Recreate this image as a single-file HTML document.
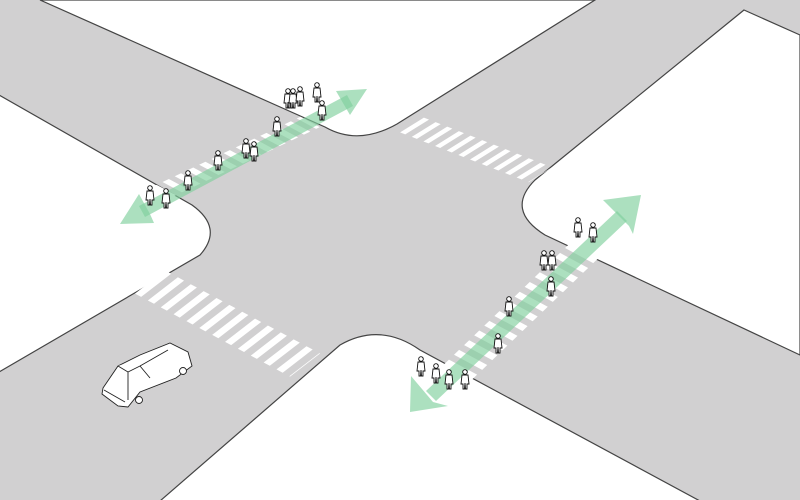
<!DOCTYPE html>
<html><head><meta charset="utf-8"><style>html,body{margin:0;padding:0;background:#fff}svg{display:block}</style></head>
<body>
<svg width="800" height="500" viewBox="0 0 800 500" xmlns="http://www.w3.org/2000/svg">
<defs>
<g id="p">
<circle cx="0" cy="-17" r="2.3" fill="#fff" stroke="#111" stroke-width="0.9"/>
<path d="M-3,-14 L3,-14 L4,-5 L2,-5 L2,0 L0.5,0 L0,-6 L-0.5,0 L-2,0 L-2,-5 L-4,-5 Z" fill="#fff" stroke="#111" stroke-width="0.9"/>
</g>
</defs>
<rect width="800" height="500" fill="#d1d0d1"/>
<g fill="#fff" stroke="#444" stroke-width="1.2">
<path d="M40,0 L325,127 Q358,146 397,124 L595,0 Z"/>
<path d="M744,10 L800,35 L800,355 L545,235 Q505,210 535,180 Z"/>
<path d="M160,501 L340,345 Q380,322 420,350 L700,501 Z"/>
<path d="M-1,95 L192,205 Q224,228 200,255 L-1,372 Z"/>
</g>
<g stroke="#fff" fill="none">
<line x1="0" y1="0" x2="138" y2="0" stroke-width="28" stroke-dasharray="5.5 7" transform="matrix(0.932,0.361,0.85,-0.53,412,125)"/>
<line x1="0" y1="0" x2="166" y2="0" stroke-width="22" stroke-dasharray="7 6.5" transform="matrix(0.904,-0.428,0.88,0.47,160,193)"/>
<line x1="0" y1="0" x2="176" y2="0" stroke-width="38" stroke-dasharray="7 7.6" transform="matrix(0.881,0.472,0.79,-0.61,150,282)"/>
<line x1="0" y1="0" x2="176" y2="0" stroke-width="32" stroke-dasharray="7 7" transform="matrix(0.721,-0.693,0.88,0.47,458,372)"/>
</g>
<g fill="#7fcf9c" fill-opacity="0.65" stroke="none">
<path d="M139,206 L347,95 L353,106 L145,217 Z"/>
<polygon points="120,224 139,194 145,205 150,214 154,223"/>
<polygon points="367,89 336,91 343,103 350,115"/>
<path d="M426,391 L617,211 L627,221 L436,401 Z"/>
<polygon points="410,412 411,376 422,389 433,402 448,406"/>
<polygon points="641,195 603,200 616,213 629,226 633,234"/>
</g>
<g>
<use href="#p" x="150" y="205"/><use href="#p" x="166" y="208"/><use href="#p" x="188" y="190"/>
<use href="#p" x="218" y="170"/><use href="#p" x="246" y="158"/><use href="#p" x="254" y="161"/>
<use href="#p" x="277" y="136"/><use href="#p" x="288" y="108"/><use href="#p" x="293" y="108"/>
<use href="#p" x="300" y="106"/><use href="#p" x="317" y="102"/><use href="#p" x="322" y="120"/>
<use href="#p" x="578" y="237"/><use href="#p" x="593" y="242"/><use href="#p" x="544" y="270"/>
<use href="#p" x="552" y="270"/><use href="#p" x="551" y="296"/><use href="#p" x="509" y="316"/>
<use href="#p" x="498" y="353"/><use href="#p" x="421" y="376"/><use href="#p" x="436" y="383"/>
<use href="#p" x="449" y="389"/><use href="#p" x="465" y="389"/>
</g>
<g fill="#fff" stroke="#222" stroke-width="0.9">
<path d="M103,388 L118,366 L140,355 L170,343 L188,352 L192,366 L176,378 L140,392 L128,407 L118,406 L102,394 Z"/>
<path d="M118,366 L128,372 L140,366 L168,350 M128,372 L128,400 M140,366 L150,378 M104,390 L125,402"/>
<circle cx="139" cy="400" r="3.5"/><circle cx="183" cy="371" r="3.5"/>
</g>
</svg>
</body></html>
